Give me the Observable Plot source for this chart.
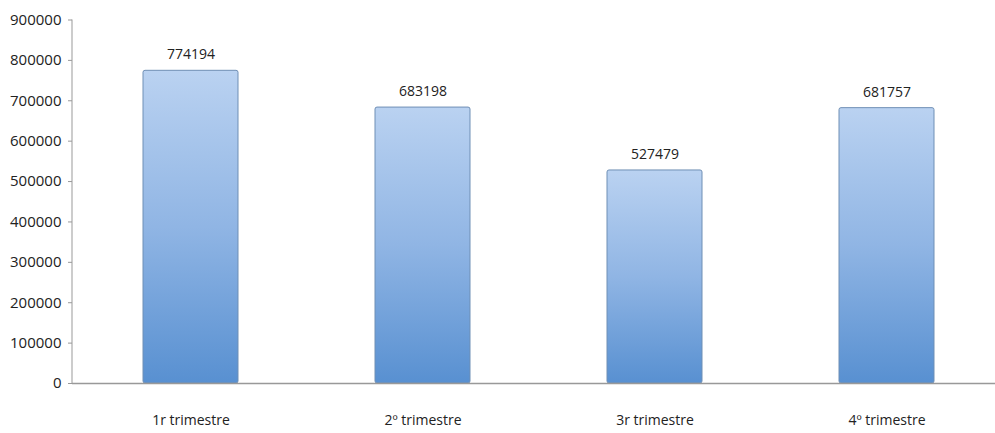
<!DOCTYPE html>
<html><head><meta charset="utf-8">
<script src="https://cdn.jsdelivr.net/npm/d3@7"></script>
<script src="https://cdn.jsdelivr.net/npm/@observablehq/plot@0.6"></script>
<style>body{margin:0;background:#fff}svg{display:block}</style>
</head><body><div id="chart"></div>
<script>
const categories = ["1r trimestre", "2º trimestre", "3r trimestre", "4º trimestre"];
const values = [774194, 683198, 527479, 681757];
const yTicks = [0,100000,200000,300000,400000,500000,600000,700000,800000,900000];
const data = categories.map((c, i) => ({cat: c, value: values[i]}));
const font = "'Open Sans', sans-serif";
const chart = Plot.plot({
  width: 995, height: 433,
  marginLeft: 72, marginTop: 19.5, marginBottom: 50, marginRight: 0,
  style: {fontFamily: font, fontSize: "14px", color: "#222", background: "#fff"},
  x: {domain: categories, range: [74, 1004], paddingInner: 0.59, paddingOuter: 0.295, label: null},
  y: {domain: [0, 900000], ticks: yTicks, label: null},
  marks: [
    () => {
      const ns = "http://www.w3.org/2000/svg";
      const defs = document.createElementNS(ns, "defs");
      defs.innerHTML = `<linearGradient id="bg" x1="0" y1="0" x2="0" y2="1">
        <stop offset="0" stop-color="#bad2f1"/><stop offset="0.5" stop-color="#90b5e4"/>
        <stop offset="1" stop-color="#5890d1"/></linearGradient>`;
      return defs;
    },
    Plot.barY(data, {x: "cat", y: "value", fill: "url(#bg)", stroke: "#6f8fb5", strokeWidth: 1, rx: 2}),
    Plot.text(data, {x: "cat", y: "value", text: d => String(d.value), dy: -16, fontSize: 14, fill: "#222"}),
    Plot.axisY({ticks: yTicks, tickFormat: d => String(d), tickSize: 4, tickPadding: 7, stroke: "#999", fontSize: 15, fill: "#222"}),
    (index, scales, values, dims) => {
      const ns = "http://www.w3.org/2000/svg";
      const line = document.createElementNS(ns, "line");
      const x0 = dims.marginLeft;
      line.setAttribute("x1", x0); line.setAttribute("x2", x0);
      line.setAttribute("y1", scales.y(900000)); line.setAttribute("y2", scales.y(0));
      line.setAttribute("stroke", "#999");
      return line;
    },
    Plot.ruleY([0], {stroke: "#999", strokeWidth: 1.5}),
    Plot.axisX({tickSize: 0, tickPadding: 32, fontSize: 14, fill: "#222"})
  ]
});
document.getElementById("chart").appendChild(chart);
</script></body></html>
